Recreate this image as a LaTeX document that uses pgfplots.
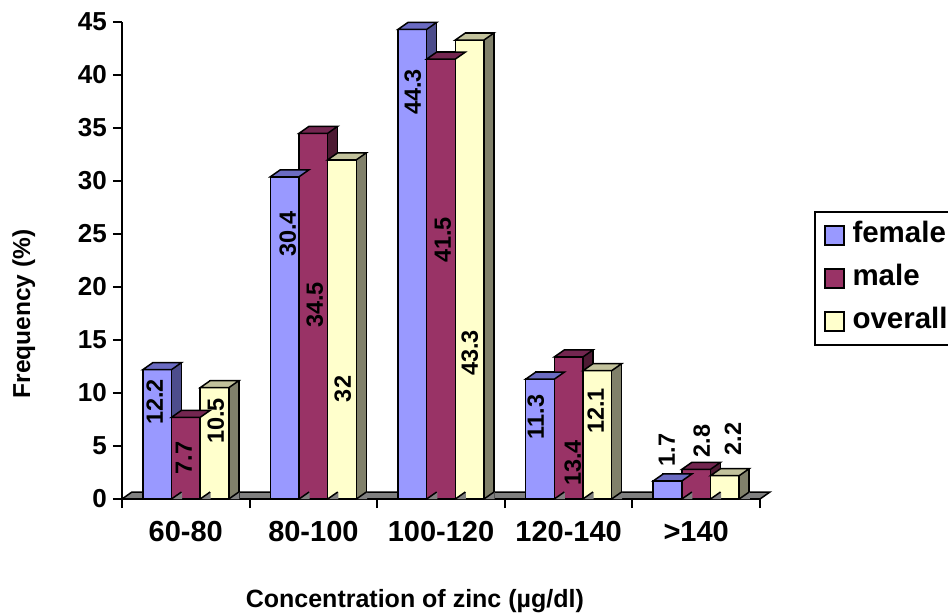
\documentclass[border=0pt]{standalone}
\usepackage{pgfplots}
\pgfplotsset{compat=1.18}
\usepackage{pgfplotstable}
\usepackage{fontspec}
\setmainfont{Liberation Sans}

\definecolor{femfront}{HTML}{9999FF}
\definecolor{femtop}{HTML}{6B6BC2}
\definecolor{femside}{HTML}{4D4D8C}
\definecolor{malefront}{HTML}{993366}
\definecolor{maletop}{HTML}{732650}
\definecolor{maleside}{HTML}{4D1A33}
\definecolor{allfront}{HTML}{FFFFCC}
\definecolor{alltop}{HTML}{C2C29C}
\definecolor{allside}{HTML}{80806A}
\definecolor{floorgray}{HTML}{808080}

% faces of the 3d bars (sizes in px of the reference = bp here)
\pgfdeclareplotmark{topface}{%
  \pgfpathmoveto{\pgfpoint{-14.33bp}{0bp}}%
  \pgfpathlineto{\pgfpoint{14.33bp}{0bp}}%
  \pgfpathlineto{\pgfpoint{24.33bp}{7bp}}%
  \pgfpathlineto{\pgfpoint{-4.33bp}{7bp}}%
  \pgfpathclose
  \pgfusepathqfillstroke}
\pgfdeclareplotmark{floortri}{%
  \pgfpathmoveto{\pgfpoint{0bp}{0bp}}%
  \pgfpathlineto{\pgfpoint{10.6bp}{0bp}}%
  \pgfpathlineto{\pgfpoint{10.6bp}{7bp}}%
  \pgfpathclose
  \pgfusepathqfill
  \pgfpathmoveto{\pgfpoint{0bp}{0bp}}%
  \pgfpathlineto{\pgfpoint{10bp}{7bp}}%
  \pgfusepathqstroke}

\pgfplotsset{
  sqlegend/.style={legend image code/.code={\draw[##1] (0bp,-9.5bp) rectangle (19bp,9.5bp);}},
  bar3d/.style={ybar, bar width=28.67bp, draw=black, line width=1.5bp},
}

\pgfplotstableread{
x female male overall
0 12.2 7.7 10.5
1 30.4 34.5 32
2 44.3 41.5 43.3
3 11.3 13.4 12.1
4 1.7 2.8 2.2
}\zinc

% where the value labels sit
\pgfplotstableread{
x y t
-0.243 9.15 12.2
-0.016 3.87 7.7
0.235 7.36 10.5
0.799 25.0 30.4
1.011 18.3 34.5
1.230 10.38 32
1.779 38.4 44.3
2.014 24.43 41.5
2.226 13.77 43.3
2.743 7.74 11.3
3.033 3.40 13.4
3.213 8.30 12.1
3.770 4.62 1.7
4.044 5.47 2.8
4.287 5.66 2.2
}\labels

\begin{document}
\begin{tikzpicture}
\path[use as bounding box] (-122bp,-117bp) rectangle (826bp,499bp);
\begin{axis}[
  at={(0bp,0bp)}, anchor=south west,
  x=127.6bp, y=10.6bp,
  xmin=-0.5, xmax=4.5, ymin=0, ymax=45,
  clip=false, axis on top,
  axis x line=bottom, axis y line=left,
  axis line style={-, line width=2bp},
  tick style={black, line width=2bp},
  major tick length=9bp, tick align=outside,
  xtick={-0.5,0.5,...,4.5}, xticklabels={},
  extra x ticks={0,1,2,3,4},
  extra x tick labels={60-80,80-100,100-120,120-140,>140},
  extra x tick style={major tick length=0pt,
    tick label style={anchor=center, inner sep=0pt, yshift=-33bp,
      font=\bfseries\fontsize{29bp}{29bp}\selectfont}},
  ytick={0,5,...,45},
  /pgf/number format/assume math mode=true,
  yticklabel style={anchor=east, inner sep=0pt, xshift=-6bp,
    font=\bfseries\fontsize{26bp}{26bp}\selectfont},
  xlabel={Concentration of zinc (µg/dl)},
  xlabel style={at={(axis description cs:0.459,-0.214)}, anchor=center,
    font=\bfseries\fontsize{25bp}{25bp}\selectfont},
  ylabel={Frequency (\%)},
  ylabel style={at={(axis description cs:-0.154,0.388)}, anchor=center, rotate=0,
    font=\bfseries\fontsize{24.5bp}{24.5bp}\selectfont},
  legend style={at={(axis description cs:1.0862,0.6017)}, anchor=north west,
    draw=black, line width=1.5bp, inner xsep=9bp, inner ysep=10bp, outer sep=0pt,
    font=\bfseries\fontsize{29.5bp}{29.5bp}\selectfont, row sep=16bp,
    nodes={inner sep=0pt, text height=21bp, text depth=6bp},
    /tikz/every odd column/.append style={column sep=8bp}},
  legend cell align=left,
]

% floor
\addplot[forget plot, fill=floorgray, draw=black, line width=1.5bp]
  coordinates {(-0.5,0) (4.5,0) (4.578,0.66) (-0.422,0.66)} -- cycle;

% female
\addplot[bar3d, forget plot, fill=femside, bar shift=-18.67bp]
  table[x=x, y expr=\thisrow{female}+0.66] \zinc;
\addplot[bar3d, fill=femfront, bar shift=-28.67bp, sqlegend]
  table[x=x, y=female] \zinc;
\addlegendentry{female}
\addplot[forget plot, only marks, mark=topface, mark options={fill=femtop, draw=black, line width=1.5bp}]
  table[x expr=\thisrow{x}-0.2247, y=female] \zinc;
\addplot[forget plot, only marks, mark=floortri, mark options={fill=floorgray, draw=black, line width=1.5bp}]
  table[x expr=\thisrow{x}-0.1123, y expr=0] \zinc;

% male
\addplot[bar3d, forget plot, fill=maleside, bar shift=10bp]
  table[x=x, y expr=\thisrow{male}+0.66] \zinc;
\addplot[bar3d, fill=malefront, bar shift=0bp, sqlegend]
  table[x=x, y=male] \zinc;
\addlegendentry{male}
\addplot[forget plot, only marks, mark=topface, mark options={fill=maletop, draw=black, line width=1.5bp}]
  table[x=x, y=male] \zinc;
\addplot[forget plot, only marks, mark=floortri, mark options={fill=floorgray, draw=black, line width=1.5bp}]
  table[x expr=\thisrow{x}+0.1123, y expr=0] \zinc;

% overall
\addplot[bar3d, forget plot, fill=allside, bar shift=38.67bp]
  table[x=x, y expr=\thisrow{overall}+0.66] \zinc;
\addplot[bar3d, fill=allfront, bar shift=28.67bp, sqlegend]
  table[x=x, y=overall] \zinc;
\addlegendentry{overall}
\addplot[forget plot, only marks, mark=topface, mark options={fill=alltop, draw=black, line width=1.5bp}]
  table[x expr=\thisrow{x}+0.2247, y=overall] \zinc;
\addplot[forget plot, only marks, mark=floortri, mark options={fill=floorgray, draw=black, line width=1.5bp}]
  table[x expr=\thisrow{x}+0.337, y expr=0] \zinc;

% value labels
\addplot[forget plot, draw=none, mark=none, nodes near coords, point meta=explicit symbolic,
  nodes near coords style={rotate=90, anchor=center, inner sep=0pt,
    font=\bfseries\fontsize{23.5bp}{23.5bp}\selectfont}]
  table[x=x, y=y, meta=t] \labels;

\end{axis}
\end{tikzpicture}
\end{document}
